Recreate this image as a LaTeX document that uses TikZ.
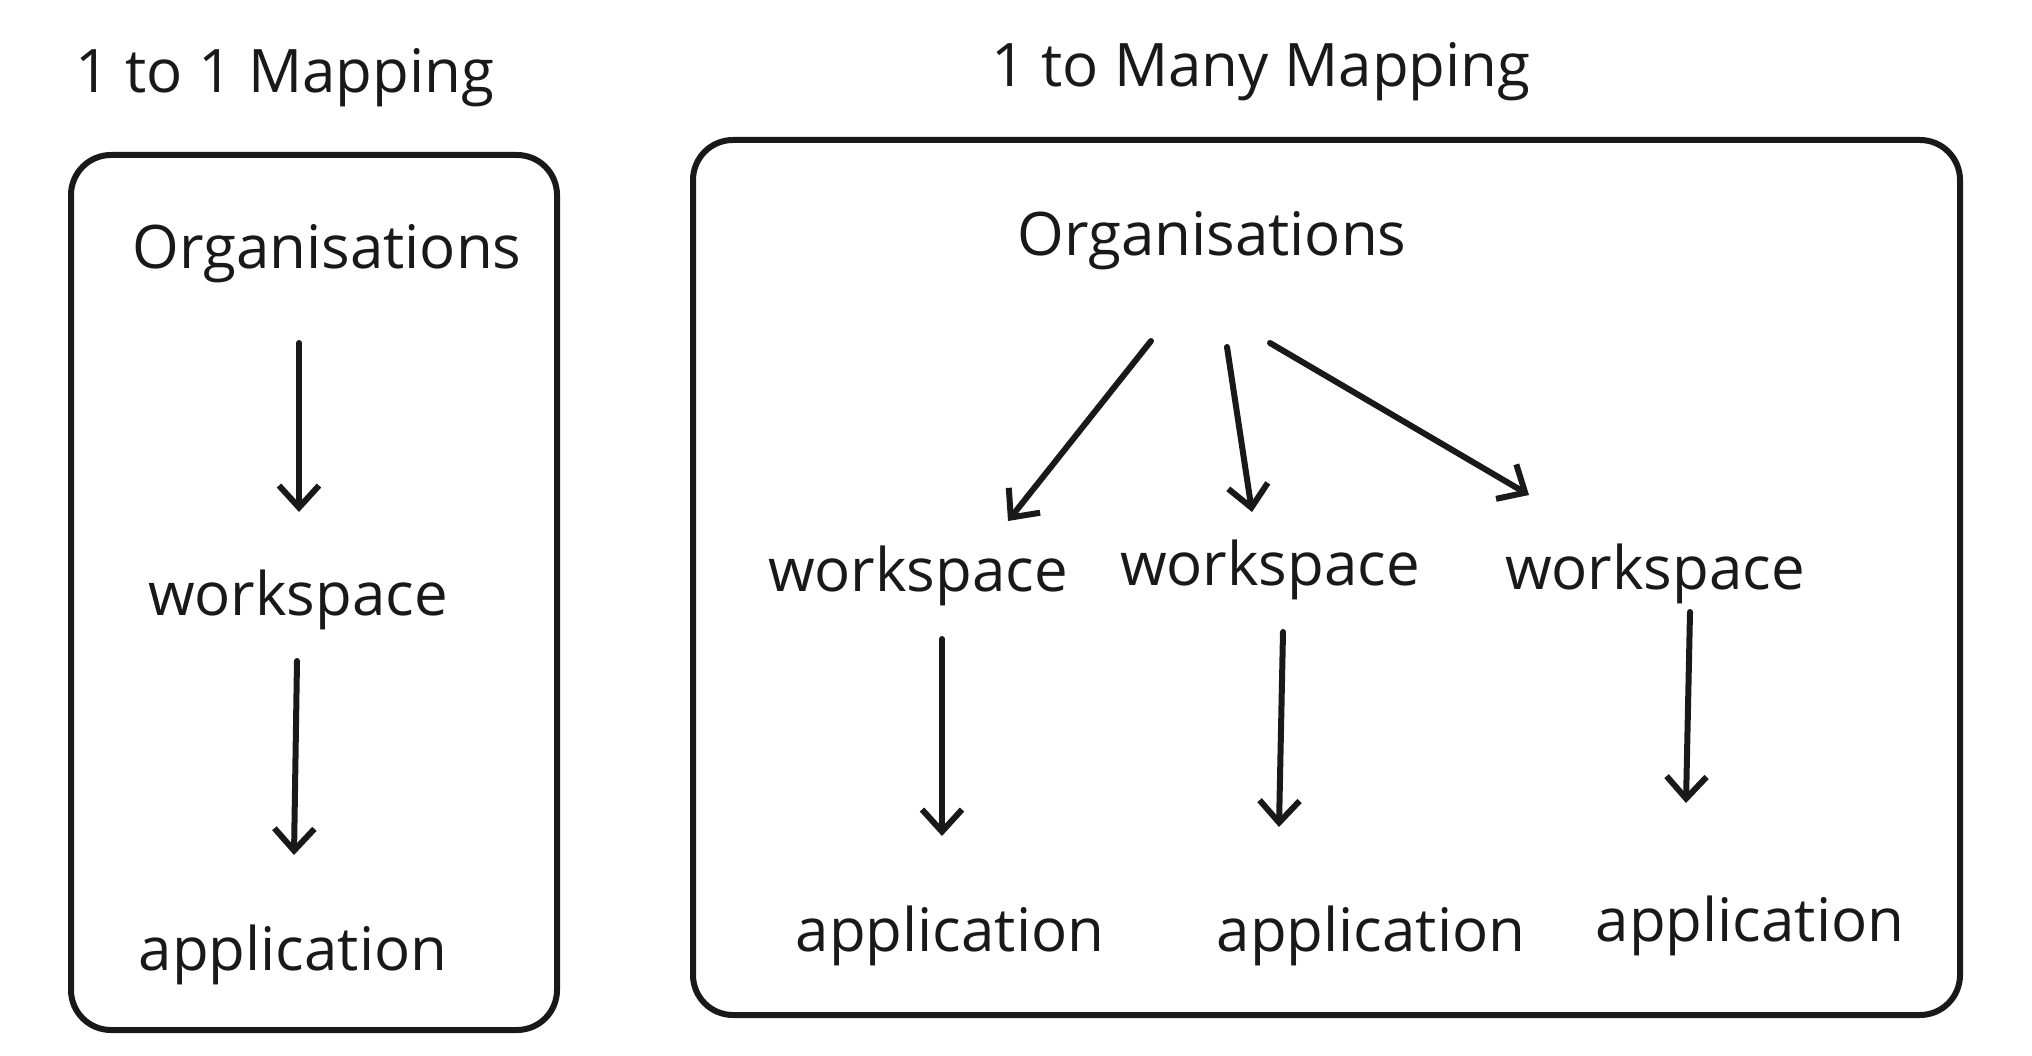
\documentclass[tikz,border=0pt]{standalone}
\usepackage{fontspec}
\setmainfont{Open Sans}
\usetikzlibrary{arrows.meta}
\begin{document}
\begin{tikzpicture}[x=1pt,y=-1pt,
  frame/.style={draw=black!90, line width=6pt, rounded corners=40pt},
  lbl/.style={font=\fontsize{60}{70}\selectfont, text=black!90, inner sep=0pt},
  ttl/.style={font=\fontsize{60}{70}\selectfont, text=black!90, inner sep=0pt},
  arr/.style={draw=black!90, line width=6pt, line cap=round,
    -{Straight Barb[length=22pt,width=40pt,line width=6pt]}}]
\useasboundingbox[fill=white] (0,0) rectangle (2032,1056);
% frames
\draw[frame] (71,155) rectangle (557,1030);
\draw[frame] (693,140) rectangle (1960,1015);
% titles
\node[ttl] (t1) at (285,78) {1 to 1 Mapping};
\node[ttl] (t2) at (1261,72) {1 to Many Mapping};
% left column
\node[lbl] (o1) at (327,254) {Organisations};
\node[lbl] (w1) at (298,600) {workspace};
\node[lbl] (a1) at (293,955) {application};
\coordinate (o1s) at (299,343);
\coordinate (o1e) at (299,512);
\coordinate (w1s) at (297,661);
\coordinate (w1e) at (294,855);
\draw[arr] (o1s) -- (o1e);
\draw[arr] (w1s) -- (w1e);
% right
\node[lbl] (o2) at (1212,241) {Organisations};
\node[lbl] (wa) at (918,576) {workspace};
\node[lbl] (wb) at (1270,570) {workspace};
\node[lbl] (wc) at (1655,574) {workspace};
\node[lbl] (aa) at (950,936) {application};
\node[lbl] (ab) at (1371,936) {application};
\node[lbl] (ac) at (1750,926) {application};
\draw[arr] (1151,341) -- (1008,521);
\draw[arr] (1227,347) -- (1252,512);
\draw[arr] (1270,343) -- (1529,495);
\draw[arr] (942,639) -- (942,836);
\draw[arr] (1283,632) -- (1279,827);
\draw[arr] (1690,612) -- (1686,803);
\end{tikzpicture}
\end{document}
